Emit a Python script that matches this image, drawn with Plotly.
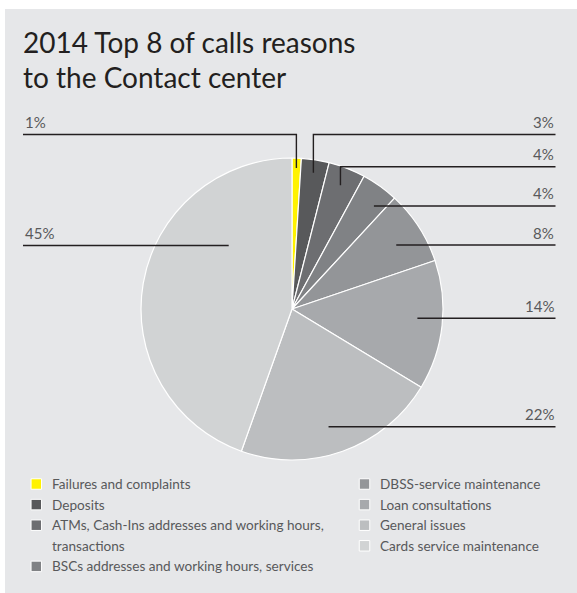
import math
import textwrap
import plotly.graph_objects as go

# ---- data -------------------------------------------------------------
title_lines = ["2014 Top 8 of calls reasons", "to the Contact center"]
categories = [
    "Failures and complaints",
    "Deposits",
    "ATMs, Cash-Ins addresses and working hours, transactions",
    "BSCs addresses and working hours, services",
    "DBSS-service maintenance",
    "Loan consultations",
    "General issues",
    "Cards service maintenance",
]
shares = [1, 3, 4, 4, 8, 14, 22, 45]  # percent of calls
slice_colors = ["#fff200", "#58595b", "#6d6e71", "#808285",
                "#939598", "#a7a9ac", "#bcbec0", "#d1d3d4"]

# ---- layout constants (pixels) ---------------------------------------
W, H = 577, 593
CX, CY, R = 292, 309, 151          # pie centre and radius
PANEL_X0, PANEL_Y0 = 5, 9          # grey panel top-left corner
BG = "#e6e7e9"
INK = "#231f20"
LABEL_GREY = "#58595b"
LEGEND_GREY = "#58595b"
FONT = "Lato"

# leader lines: side of the label, y of the horizontal rule,
# whether it bends down into the slice, where inside the slice it points
leader_side = ["left", "right", "right", "right", "right", "right", "right", "left"]
leader_y = [134.5, 134.5, 166.7, 206.0, 245.0, 318.3, 426.7, 245.5]
leader_elbow = [True, True, True, False, False, False, False, False]
leader_pos = [0.5, 0.5, 0.5, 0.7, 0.55, 0.46, 0.53, 0.72]
leader_depth = [0.934, 0.914, 0.88, None, None, None, None, None]
RIGHT_EDGE, LEFT_EDGE = 555.5, 23


def px(x):
    return x / W


def py(y):
    return 1 - y / H


fig = go.Figure()

fig.add_trace(go.Pie(
    labels=categories,
    values=shares,
    sort=False,
    direction="clockwise",
    rotation=0,
    marker=dict(colors=slice_colors, line=dict(color="white", width=1.2)),
    textinfo="none",
    textposition="none",
    hoverinfo="label+percent",
    showlegend=False,
    domain=dict(x=[px(CX - R), px(CX + R)], y=[py(CY + R), py(CY - R)]),
))

shapes = [dict(type="rect", xref="paper", yref="paper",
               x0=px(PANEL_X0), x1=1, y0=0, y1=py(PANEL_Y0),
               fillcolor=BG, line=dict(width=0), layer="below")]
annotations = []

# ---- leader lines and percentage labels --------------------------------
total = sum(shares)
start = 0.0
for i, v in enumerate(shares):
    span = 360.0 * v / total
    theta = math.radians(start + leader_pos[i] * span)
    start += span
    sx, sy = math.sin(theta), -math.cos(theta)
    edge = RIGHT_EDGE if leader_side[i] == "right" else LEFT_EDGE
    ly = leader_y[i]
    if leader_elbow[i]:
        r = leader_depth[i] * R
        ax, ay = CX + r * sx, CY + r * sy
        pts = [(edge, ly), (ax, ly), (ax, ay)]
    else:
        t = (ly - CY) / sy
        ax = CX + t * sx
        pts = [(edge, ly), (ax, ly)]
    path = "M " + " L ".join(f"{px(x):.5f},{py(y):.5f}" for x, y in pts)
    shapes.append(dict(type="path", xref="paper", yref="paper", path=path,
                       line=dict(color=INK, width=1.4), layer="above"))
    annotations.append(dict(
        x=px(edge), y=py(ly - 12.5), xref="paper", yref="paper",
        text=f"{v}%", showarrow=False,
        xanchor="right" if leader_side[i] == "right" else "left",
        yanchor="middle",
        font=dict(family=FONT, size=15, color=LABEL_GREY),
    ))

# ---- title -------------------------------------------------------------
for j, line in enumerate(title_lines):
    annotations.append(dict(
        x=px(21), y=py(42 + 35 * j), xref="paper", yref="paper",
        text=line, showarrow=False, xanchor="left", yanchor="middle",
        font=dict(family=FONT, size=28, color=INK),
    ))

# ---- legend (two columns, wrapped entries) -------------------------------
col_split = 4
col_box_x = [36.3, 364.5]
col_text_x = [50, 377.7]
ROW0, ROW_STEP, BOX = 484, 20.6, 10.5
rows = [0, 0]
for i, name in enumerate(categories):
    col = 0 if i < col_split else 1
    lines = textwrap.wrap(name, 43)
    yc = ROW0 + rows[col] * ROW_STEP
    bx = col_box_x[col]
    shapes.append(dict(type="rect", xref="paper", yref="paper",
                       x0=px(bx - BOX / 2), x1=px(bx + BOX / 2),
                       y0=py(yc + BOX / 2), y1=py(yc - BOX / 2),
                       fillcolor=slice_colors[i],
                       line=dict(color="white", width=1), layer="above"))
    for k, line in enumerate(lines):
        annotations.append(dict(
            x=px(col_text_x[col]), y=py(yc + k * ROW_STEP),
            xref="paper", yref="paper", text=line, showarrow=False,
            xanchor="left", yanchor="middle",
            font=dict(family=FONT, size=13.6, color=LEGEND_GREY),
        ))
    rows[col] += len(lines)

fig.update_layout(
    width=W, height=H,
    margin=dict(l=0, r=0, t=0, b=0),
    paper_bgcolor="white",
    plot_bgcolor="white",
    shapes=shapes,
    annotations=annotations,
)

fig.write_html("out.html")
